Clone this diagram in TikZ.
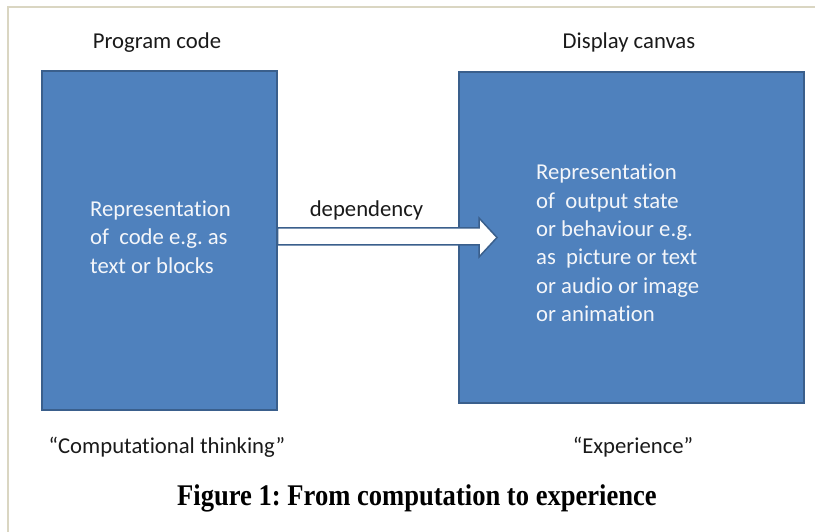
\documentclass[tikz,border=0pt]{standalone}
\usepackage{fontspec}
\setmainfont{Carlito}[RawFeature=-liga]
\newfontfamily\capfont{Liberation Serif}
\frenchspacing
\definecolor{boxblue}{HTML}{4F81BD}
\definecolor{boxedge}{HTML}{3A5F8C}
\definecolor{frameline}{HTML}{DAD6C2}
\definecolor{labeltext}{HTML}{1A1A1A}
\definecolor{boxtext}{HTML}{F4F6FA}
\begin{document}
\begin{tikzpicture}[x=1pt,y=-1pt,
  panel/.style={draw=boxedge,fill=boxblue,line width=1.3pt,inner sep=0pt,rectangle},
  lbl/.style={anchor=base,inner sep=0pt,text=labeltext,font=\fontsize{22.7}{28.3}\selectfont},
  intext/.style={anchor=base west,inner sep=0pt,text=boxtext,font=\fontsize{22.7}{28.3}\selectfont},
  deparrow/.style={draw=boxedge,fill=white,line width=1.5pt,line join=miter}]
\useasboundingbox (0,0) rectangle (815,532);
\fill[white] (0,0) rectangle (815,532);
% frame
\draw[frameline,line width=1.5pt] (8,532) -- (8,7) -- (815,7);
% boxes
\node[panel,minimum width=235pt,minimum height=339pt] (L) at (159.5,240.5) {};
\node[panel,minimum width=345pt,minimum height=331pt] (R) at (631.5,237.5) {};
% arrow
\coordinate (tip) at (497,237.5);
\draw[deparrow] (L.east |- 0,228) -- (479,228) -- (479,218) -- (tip)
  -- (479,257) -- (479,245) -- (L.east |- 0,245) -- cycle;
% labels
\node[lbl] (pc) at (157,48.3) {Program code};
\node[lbl] (dc) at (629,48.3) {Display canvas};
\node[lbl] (dep) at (366.5,216.7) {dependency};
\node[lbl] (ct) at (167,453.3) {“Computational thinking”};
\node[lbl] (ex) at (633,453.3) {“Experience”};
\node[intext] (lt) at (90,216.7) {\vtop{\hbox{Representation}\hbox{of~ code e.g. as}\hbox{text or blocks}}};
\node[intext] (rt) at (536,180) {\vtop{\hbox{Representation}\hbox{of~ output state}\hbox{or behaviour e.g.}\hbox{as~ picture or text}\hbox{or audio or image}\hbox{or animation}}};
\node[anchor=base,inner sep=0pt,text=black] (cap) at (417,505)
  {\scalebox{0.886}[1]{\capfont\bfseries\fontsize{30}{36}\selectfont Figure 1: From computation to experience}};
\end{tikzpicture}
\end{document}
